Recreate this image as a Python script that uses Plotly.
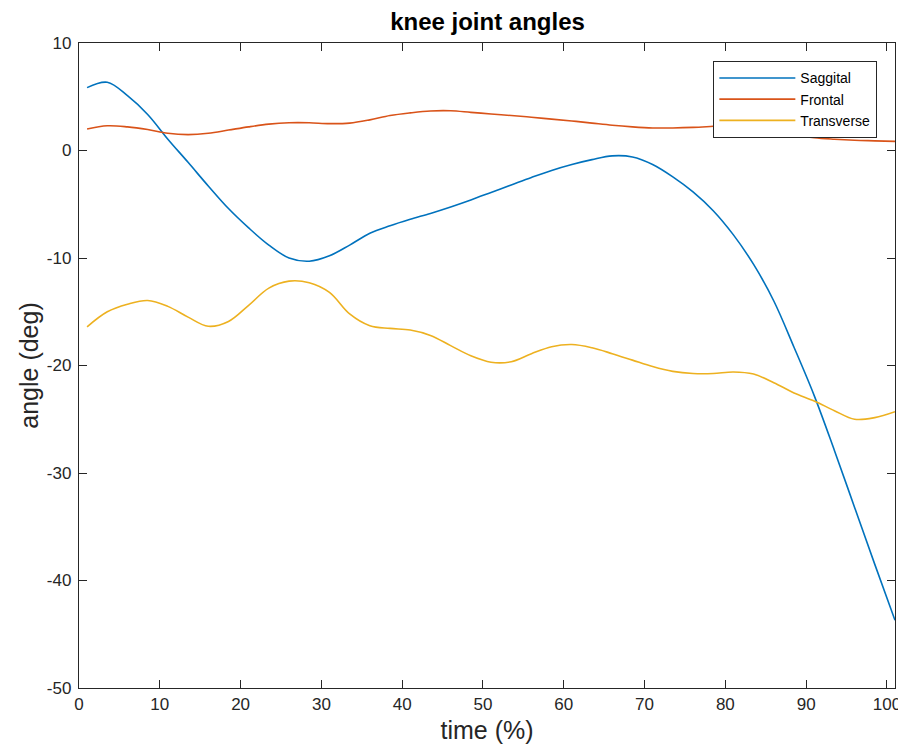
import plotly.graph_objects as go

# sample positions (time %)
time_pct = [1, 3.5, 6, 8.5, 11, 13.5, 16, 18.5, 21, 23.5, 26, 28.5, 31, 33.5, 36, 38.5, 41, 43.5,
            46, 48.5, 51, 53.5, 56, 58.5, 61, 63.5, 66, 68.5, 71, 73.5, 76, 78.5, 81, 83.5, 86,
            88.5, 91, 93.5, 96, 98.5, 101]

# Saggital (blue)
saggital = [5.85, 6.35, 5.1, 3.35, 1.05, -1.1, -3.3, -5.4, -7.2, -8.8, -10.0, -10.3, -9.8, -8.8,
            -7.7, -7.0, -6.4, -5.85, -5.25, -4.6, -3.9, -3.2, -2.5, -1.85, -1.3, -0.85, -0.5,
            -0.6, -1.3, -2.45, -3.85, -5.6, -7.85, -10.6, -14.0, -18.3, -22.8, -27.9, -33.2,
            -38.5, -43.7]

# Frontal (orange)
frontal = [2.0, 2.3, 2.2, 1.95, 1.6, 1.48, 1.6, 1.9, 2.2, 2.45, 2.58, 2.58, 2.5, 2.55, 2.85,
           3.25, 3.5, 3.68, 3.7, 3.55, 3.4, 3.25, 3.1, 2.92, 2.75, 2.55, 2.35, 2.2, 2.1, 2.1,
           2.15, 2.25, 2.35, 2.25, 1.9, 1.5, 1.2, 1.05, 0.95, 0.9, 0.85]

# Transverse (yellow)
transverse = [-16.4, -15.0, -14.3, -13.95, -14.5, -15.5, -16.35, -15.9, -14.4, -12.8, -12.15,
              -12.3, -13.2, -15.2, -16.3, -16.55, -16.7, -17.2, -18.15, -19.1, -19.7, -19.65,
              -18.9, -18.25, -18.05, -18.35, -18.9, -19.5, -20.1, -20.55, -20.75, -20.75, -20.6,
              -20.8, -21.6, -22.55, -23.3, -24.2, -25.0, -24.85, -24.3]

names = ["Saggital", "Frontal", "Transverse"]
colors = ["#0072BD", "#D95319", "#EDB120"]

x_ticks = [0, 10, 20, 30, 40, 50, 60, 70, 80, 90, 100]
y_ticks = [-50, -40, -30, -20, -10, 0, 10]

fig = go.Figure()
for ys, nm, c in zip([saggital, frontal, transverse], names, colors):
    fig.add_trace(go.Scatter(x=time_pct, y=ys, name=nm, mode="lines",
                             line=dict(color=c, width=1.6, shape="spline", smoothing=1.0)))

font_family = "Liberation Sans, Arial, Helvetica, sans-serif"
axis_common = dict(showline=True, linecolor="#262626", linewidth=1.3, mirror="ticks",
                   ticks="inside", ticklen=8, tickwidth=1.3, tickcolor="#262626",
                   showgrid=False, zeroline=False, ticklabeloverflow="allow",
                   tickfont=dict(family=font_family, size=17, color="#262626"))

fig.update_layout(
    width=898, height=736,
    paper_bgcolor="white", plot_bgcolor="white",
    margin=dict(l=71, r=11, t=35, b=56, autoexpand=False),
    title=dict(text="<b>knee joint angles</b>", x=0.534, xanchor="center", y=0.993, yanchor="top",
               font=dict(family=font_family, size=24, color="black")),
    xaxis=dict(range=[0, 101], tickvals=x_ticks, ticktext=[str(v) for v in x_ticks],
               title=dict(text="time (%)", font=dict(family=font_family, size=25, color="#262626"), standoff=10),
               **axis_common),
    yaxis=dict(range=[-50, 10], tickvals=y_ticks, ticktext=[str(v) for v in y_ticks],
               title=dict(text="angle (deg)", font=dict(family=font_family, size=25, color="#262626"), standoff=1),
               ticklabelstandoff=3,
               **axis_common),
    legend=dict(x=0.978, y=0.972, xanchor="right", yanchor="top",
                bgcolor="white", bordercolor="#262626", borderwidth=1.3,
                font=dict(family=font_family, size=14, color="black"),
                itemwidth=76, tracegroupgap=0),
    showlegend=True,
)

fig.write_html("out.html")
